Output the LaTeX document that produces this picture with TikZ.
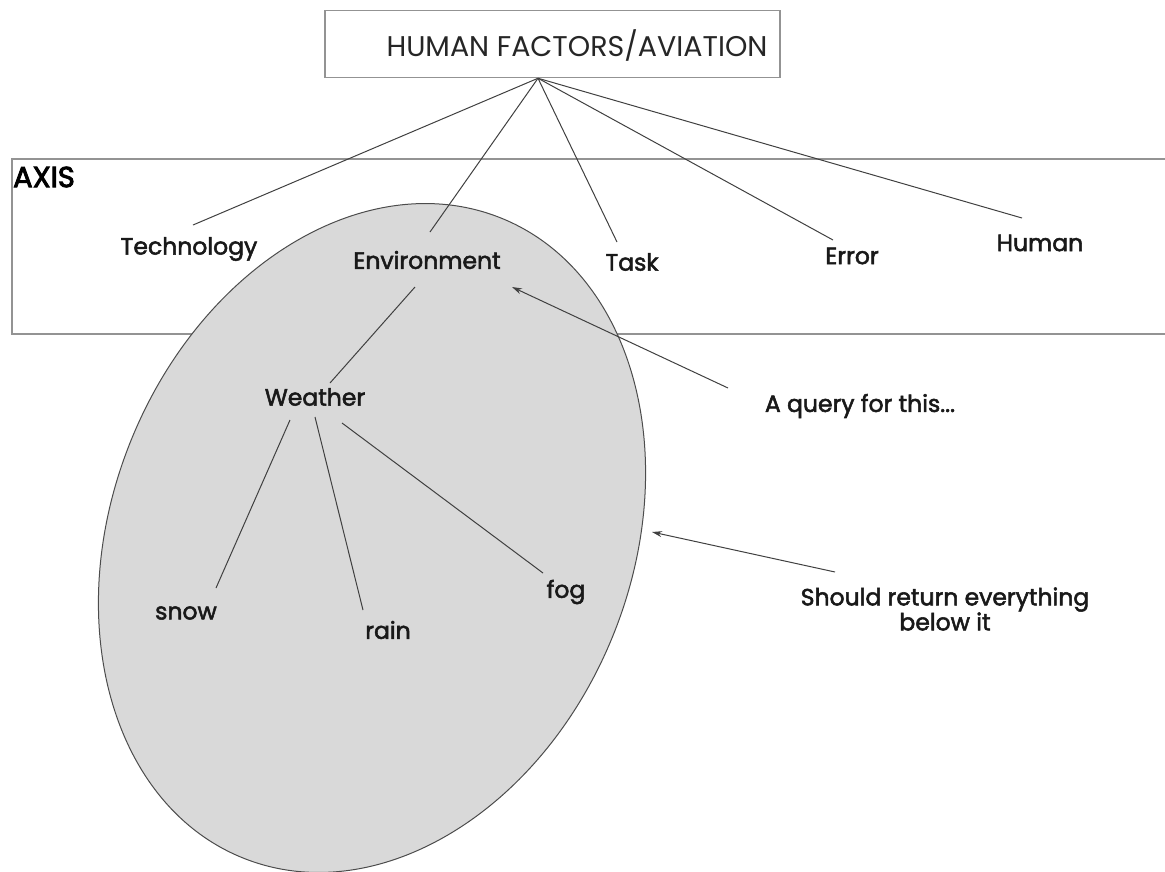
\documentclass[tikz,border=0pt]{standalone}
\usepackage{fontspec}
\setmainfont{Poppins}
\newfontfamily\labfont[FakeBold=2.2]{Poppins}
\newfontfamily\axfont[FakeBold=3]{Poppins}
\usetikzlibrary{shapes.geometric,arrows.meta,calc}
\begin{document}
\begin{tikzpicture}[x=1pt,y=-1pt,
  lab/.style={font=\labfont\fontsize{23.5}{25}\selectfont, text=black!90, inner sep=0pt},
  link/.style={draw=black!75, line width=1pt},
  arr/.style={link, -{Stealth[length=10pt,width=6pt]}},
  framebox/.style={draw=gray!85, line width=1.5pt},
]
\useasboundingbox (0,0) rectangle (1165,871);
% axis band
\draw[framebox] (1180,159) -- (12,159) -- (12,334) -- (1180,334);
% top box
\node[framebox, minimum width=455pt, minimum height=67pt, inner sep=0pt] (topbox) at (552.5,44) {};
\node[font=\fontsize{28.5}{30}\selectfont, text=black!85, inner sep=0pt] (title) at (577,45) {HUMAN FACTORS/AVIATION};
\coordinate (hub) at ([xshift=-14.5pt]topbox.south);
% ellipse
\node[ellipse, draw=black!70, fill=gray!30, line width=1pt, minimum width=520pt, minimum height=690pt, inner sep=0pt, rotate=-22] (set) at (372,538) {};
% labels
\node[font=\axfont\fontsize{29}{30}\selectfont, inner sep=0pt] (axis) at (44,177) {AXIS};
\node[lab] (tech) at (189,249) {Technology};
\node[lab] (env) at (427,260) {Environment};
\node[lab] (task) at (632,262) {Task};
\node[lab] (error) at (852,256) {Error};
\node[lab] (human) at (1040,243) {Human};
\node[lab] (weather) at (315,397) {Weather};
\node[lab] (snow) at (186,613) {snow};
\node[lab] (rain) at (388,630) {rain};
\node[lab] (fog) at (566,592) {fog};
\node[lab] (query) at (860,406) {A query for this...};
\node[lab, align=center] (should) at (945,609) {Should return everything\\below it};
% connectors
\draw[link] (hub) -- ([shift={(4,-24)}]tech.center);
\draw[link] (hub) -- ([shift={(3,-28)}]env.center);
\draw[link] (hub) -- ([shift={(-15,-20)}]task.center);
\draw[link] (hub) -- ([shift={(-19,-16)}]error.center);
\draw[link] (hub) -- ([shift={(-18,-25)}]human.center);
\draw[link] ([shift={(-12,27)}]env.center) -- ([shift={(15,-14)}]weather.center);
\draw[link] ([shift={(-25,23)}]weather.center) -- ([shift={(30,-25)}]snow.center);
\draw[link] ([shift={(0,20)}]weather.center) -- ([shift={(-25,-20)}]rain.center);
\draw[link] ([shift={(27,26)}]weather.center) -- ([shift={(-23,-19)}]fog.center);
% arrows
\draw[arr] ([shift={(-132,-18)}]query.center) -- ([shift={(85,27)}]env.center);
\draw[arr] ([shift={(-110,-37)}]should.center) -- ([shift={(280,-6)}]set.center);
\end{tikzpicture}
\end{document}
